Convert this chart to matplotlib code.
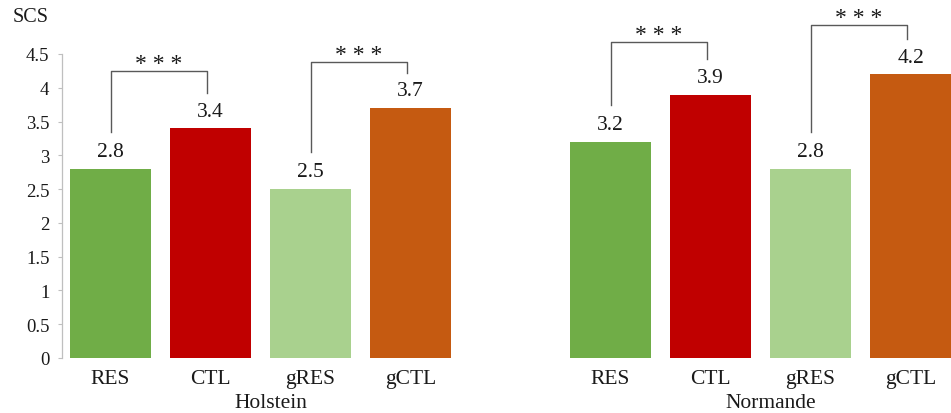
import matplotlib
matplotlib.use("Agg")
import matplotlib.pyplot as plt
from matplotlib.transforms import blended_transform_factory

plt.rcParams["font.family"] = ["Liberation Serif", "DejaVu Serif"]

# Somatic cell score by line and breed
breeds = ["Holstein", "Normande"]
groups = ["RES", "CTL", "gRES", "gCTL"]
holstein = [2.8, 3.4, 2.5, 3.7]
normande = [3.2, 3.9, 2.8, 4.2]
colors = ["#70AD47", "#C00000", "#A9D18E", "#C55A11"]
yticks = [0, 0.5, 1, 1.5, 2, 2.5, 3, 3.5, 4, 4.5]
# pairs compared within each breed (indices into groups) and bracket heights
pairs = [(0, 1), (2, 3)]
bracket_tops = [[4.25, 4.38], [4.68, 4.93]]
signif = "* * *"

W, H = 951, 414
fig = plt.figure(figsize=(W / 100, H / 100), dpi=100)
ax = fig.add_axes([62 / W, (H - 359) / H, (W - 62) / W, (359 - 55) / H])

series = [holstein, normande]
gap = 1  # empty slot between breeds
xs_all, vals_all, cols_all, labs_all = [], [], [], []
for b, vals in enumerate(series):
    base = b * (len(groups) + gap)
    for i, v in enumerate(vals):
        xs_all.append(base + i)
        vals_all.append(v)
        cols_all.append(colors[i])
        labs_all.append(groups[i])

bars = ax.bar(xs_all, vals_all, width=0.81, color=cols_all, zorder=2)

txt = "#1a1a1a"
for x, v in zip(xs_all, vals_all):
    ax.annotate(f"{v:.1f}", (x, v), xytext=(0, 5.5), textcoords="offset points",
                ha="center", va="bottom", fontsize=15.5, color=txt)

# significance brackets
for b, vals in enumerate(series):
    base = b * (len(groups) + gap)
    for k, (i, j) in enumerate(pairs):
        x1, x2 = base + i, base + j - 0.04
        y1, y2 = vals[i] + 0.55, vals[j] + 0.52
        top = bracket_tops[b][k]
        ax.plot([x1, x1, x2, x2], [y1, top, top, y2], color="#595959",
                lw=1.0, clip_on=False, zorder=3)
        ax.annotate(signif, ((x1 + x2) / 2, top), xytext=(0, 1.5),
                    textcoords="offset points", ha="center", va="baseline",
                    fontsize=17, color=txt, annotation_clip=False)

ax.set_xlim(-0.485, 8.405)
ax.set_ylim(0, 4.5)
ax.set_yticks(yticks)
ax.set_yticklabels([f"{t:g}" for t in yticks], fontsize=13.5, color=txt)
ax.set_xticks(xs_all)
ax.set_xticklabels(labs_all, fontsize=15.5, color=txt)
ax.tick_params(axis="x", length=0, pad=8)
ax.tick_params(axis="y", length=3, width=0.8, color="#BFBFBF", pad=6)

for s in ["top", "right", "bottom"]:
    ax.spines[s].set_visible(False)
ax.spines["left"].set_color("#BFBFBF")
ax.spines["left"].set_linewidth(0.9)

trans = blended_transform_factory(ax.transData, fig.transFigure)
for b, name in enumerate(breeds):
    base = b * (len(groups) + gap)
    cx = base + (len(groups) - 1) / 2 + 0.1
    ax.text(cx, (H - 404) / H, name, transform=trans, ha="center",
            va="center", fontsize=15.5, color=txt)

fig.text(31 / W, (H - 18) / H, "SCS", ha="center", va="center",
         fontsize=14.5, color=txt)

fig.savefig("out.png", dpi=100)
